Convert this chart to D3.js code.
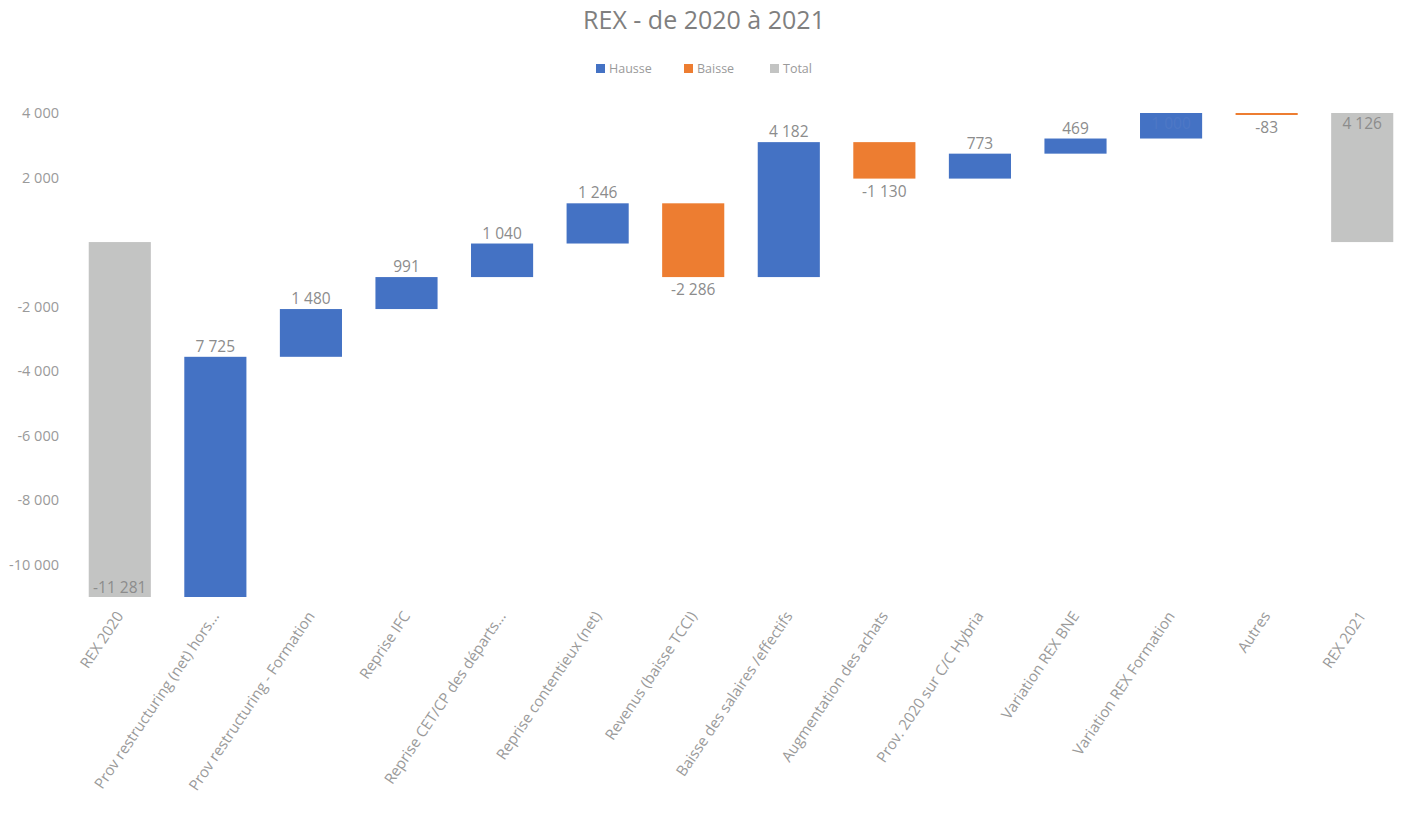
<!DOCTYPE html>
<html>
<head>
<meta charset="utf-8">
<script src="https://cdn.jsdelivr.net/npm/d3@7"></script>
<style>
  html, body { margin: 0; padding: 0; background: #fff; }
  svg { display: block; font-family: "Open Sans", Lato, sans-serif; }
</style>
</head>
<body>
<svg id="chart" width="1402" height="829"></svg>
<script>
// ---- data ----
const categories = [
  "REX 2020",
  "Prov restructuring (net) hors...",
  "Prov restructuring - Formation",
  "Reprise IFC",
  "Reprise CET/CP des départs...",
  "Reprise contentieux (net)",
  "Revenus (baisse TCCI)",
  "Baisse des salaires /effectifs",
  "Augmentation des achats",
  "Prov. 2020 sur C/C Hybria",
  "Variation REX BNE",
  "Variation REX Formation",
  "Autres",
  "REX 2021"
];
const values = [-11281, 7725, 1480, 991, 1040, 1246, -2286, 4182, -1130, 773, 469, 1000, -83, 4126];
const isTotal = [true, false, false, false, false, false, false, false, false, false, false, false, false, true];
const yTicks = [-10000, -8000, -6000, -4000, -2000, 2000, 4000];
const yDomain = [-11000, 4000];
const legendItems = ["Hausse", "Baisse", "Total"];
const title = "REX - de 2020 à 2021";

// ---- layout ----
const svg = d3.select("#chart");
const plotTop = 113, plotBottom = 597;
const colors = { Hausse: "#4472C4", Baisse: "#ED7D31", Total: "#C3C4C3" };
const textColor = "#8c8c8c";
const FONT = "'Open Sans', Lato, sans-serif";

const locale = d3.formatLocale({ decimal: ",", thousands: " ", grouping: [3], minus: "-" });
const fmt = locale.format(",d");

const x = d3.scaleBand().domain(categories).range([72, 1410]).paddingInner(0.35).paddingOuter(0.175);
const y = d3.scaleLinear().domain(yDomain).range([plotBottom, plotTop]);

// waterfall computation
let running = 0;
const bars = categories.map((c, i) => {
  let lo, hi, type;
  if (isTotal[i]) {
    lo = Math.min(0, values[i]); hi = Math.max(0, values[i]); type = "Total";
    running = values[i];
  } else {
    const start = running, end = running + values[i];
    lo = Math.min(start, end); hi = Math.max(start, end);
    type = values[i] >= 0 ? "Hausse" : "Baisse";
    running = end;
  }
  return { c, v: values[i], lo, hi, type };
});

const clamp = v => Math.max(plotTop, Math.min(plotBottom, v));

// title
svg.append("text").attr("x", 704).attr("y", 29).attr("text-anchor", "middle")
  .attr("font-size", 25).attr("fill", "#7f7f7f").text(title);

// legend
const legendX = [596, 684, 770];
const lg = svg.append("g");
legendItems.forEach((k, i) => {
  lg.append("rect").attr("x", legendX[i]).attr("y", 64).attr("width", 9).attr("height", 9).attr("fill", colors[k]);
  lg.append("text").attr("x", legendX[i] + 13).attr("y", 73).attr("font-size", 12.5)
    .attr("fill", "#9a9a9a").text(k);
});

// y axis
const yAxis = d3.axisLeft(y).tickValues(yTicks).tickFormat(fmt).tickSize(0).tickPadding(0);
const ya = svg.append("g").attr("transform", "translate(59,0)").call(yAxis);
ya.select(".domain").remove();
ya.selectAll("text").attr("font-size", 14.5).attr("fill", "#9a9a9a").attr("font-family", FONT);

// bars
const g = svg.append("g");
bars.forEach(b => {
  const top = clamp(y(b.hi)), bottom = clamp(y(b.lo));
  let h = bottom - top;
  if (h < 2) { h = 2; }
  b.top = top; b.bottom = top + h;
  b.clipTop = y(b.hi) < plotTop;
  b.clipBottom = y(b.lo) > plotBottom;
  g.append("rect").attr("x", x(b.c)).attr("y", top).attr("width", x.bandwidth()).attr("height", h)
    .attr("fill", colors[b.type]);
});

// data labels
bars.forEach(b => {
  const cx = x(b.c) + x.bandwidth() / 2;
  let ly, fill = textColor;
  const positive = b.v >= 0;
  if (positive) {
    if (b.clipTop) { ly = b.top + 16; if (b.type === "Hausse") fill = "#4e78c6"; }
    else ly = b.top - 5;
  } else {
    if (b.clipBottom) ly = b.bottom - 4;
    else ly = b.bottom + 18;
  }
  svg.append("text").attr("x", cx).attr("y", ly).attr("text-anchor", "middle")
    .attr("font-size", 15.5).attr("fill", fill).text(fmt(b.v));
});

// x axis labels
const xAxis = d3.axisBottom(x).tickSize(0).tickPadding(0);
const xa = svg.append("g").attr("transform", `translate(0,${plotBottom + 16})`).call(xAxis);
xa.select(".domain").remove();
xa.selectAll("text")
  .attr("font-size", 15).attr("fill", "#9a9a9a").attr("font-family", FONT)
  .attr("text-anchor", "end").attr("dy", "0.35em").attr("y", 0).attr("x", 0)
  .attr("transform", "rotate(-56)");
</script>
</body>
</html>
